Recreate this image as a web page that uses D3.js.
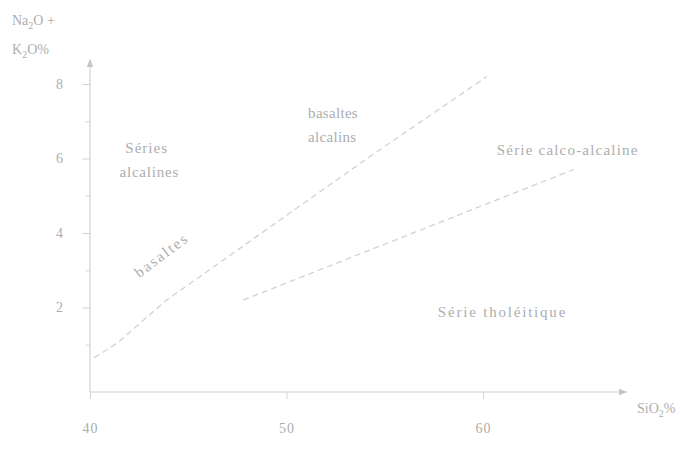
<!DOCTYPE html>
<html>
<head>
<meta charset="utf-8">
<script src="https://cdn.jsdelivr.net/npm/d3@7"></script>
<style>
  html, body { margin: 0; padding: 0; background: #fff; }
  svg { display: block; }
  text { font-family: "Liberation Serif", "DejaVu Serif", serif; }
</style>
</head>
<body>
<svg id="chart" width="683" height="450"></svg>
<script>
// ---- data ----
const xTicks = [40, 50, 60];
const yTicks = [2, 4, 6, 8];
const yMinorTicks = [1, 3, 5, 7];
// alkaline / subalkaline boundary (SiO2 %, Na2O+K2O %)
const alkalineLineX = [40.2, 41.4, 43.9, 54.1, 60.2];
const alkalineLineY = [0.65, 1.05, 2.2, 6.0, 8.2];
// calc-alkaline / tholeiitic boundary
const tholeiiticLineX = [47.8, 64.6];
const tholeiiticLineY = [2.2, 5.7];
// region labels [text, SiO2, alkali]
const regionLabels = [
  ["Séries", 41.8, 6.15],
  ["alcalines", 41.5, 5.5],
  ["basaltes", 51.1, 7.08],
  ["alcalins", 51.1, 6.45],
  ["Série calco-alcaline", 60.7, 6.1],
  ["Série tholéitique", 57.7, 1.75]
];
const regionSpacing = [1, 0.8, 0.3, 0.3, 1.2, 1.8];
const rotatedLabel = ["basaltes", 43.8, 3.3];

// ---- scales ----
const svg = d3.select("#chart");
const x = d3.scaleLinear().domain([40, 60]).range([90, 483]);
const y = d3.scaleLinear().domain([0, 8]).range([382, 84]);
const axisY0 = 392;           // pixel row of the horizontal axis
const xMax = 67.3, yMax = 8.65;

const lineCol = "#d2d2d2";
const textCol = "#adadad";

// ---- axes ----
const gx = svg.append("g").attr("transform", `translate(0,${axisY0})`)
  .call(d3.axisBottom(x).tickValues(xTicks).tickSize(7).tickPadding(24).tickFormat(d3.format("d")));
const gy = svg.append("g").attr("transform", `translate(${x(40)},0)`)
  .call(d3.axisLeft(y).tickValues(yTicks).tickSize(8).tickPadding(18).tickFormat(d3.format("d")));
const gm = svg.append("g").attr("transform", `translate(${x(40)},0)`)
  .call(d3.axisLeft(y).tickValues(yMinorTicks).tickSize(4).tickFormat(""));

[gx, gy, gm].forEach(g => {
  g.attr("color", textCol).attr("font-family", "Liberation Serif, serif").attr("font-size", 14);
  g.select(".domain").remove();
  g.selectAll(".tick line").attr("stroke", lineCol);
  g.selectAll(".tick text").attr("fill", textCol).attr("letter-spacing", 1);
});

// axis lines with arrows
svg.append("defs").append("marker")
  .attr("id", "arr").attr("viewBox", "0 0 10 10").attr("refX", 9).attr("refY", 5)
  .attr("markerWidth", 7).attr("markerHeight", 7).attr("orient", "auto")
  .append("path").attr("d", "M0,1L10,5L0,9Z").attr("fill", "#c4c4c4");

svg.append("line")
  .attr("x1", x(40)).attr("x2", x(xMax)).attr("y1", axisY0).attr("y2", axisY0)
  .attr("stroke", lineCol).attr("stroke-width", 1.2).attr("marker-end", "url(#arr)");
svg.append("line")
  .attr("x1", x(40)).attr("x2", x(40)).attr("y1", axisY0).attr("y2", y(yMax))
  .attr("stroke", lineCol).attr("stroke-width", 1.2).attr("marker-end", "url(#arr)");

// ---- boundary lines ----
const line = d3.line().x(d => x(d[0])).y(d => y(d[1]));
svg.append("path")
  .datum(d3.zip(alkalineLineX, alkalineLineY))
  .attr("d", line).attr("fill", "none").attr("stroke", lineCol)
  .attr("stroke-width", 1.3).attr("stroke-dasharray", "6,4");
svg.append("path")
  .datum(d3.zip(tholeiiticLineX, tholeiiticLineY))
  .attr("d", line).attr("fill", "none").attr("stroke", lineCol)
  .attr("stroke-width", 1.3).attr("stroke-dasharray", "6,4");

// ---- labels ----
svg.selectAll("text.region").data(regionLabels).join("text")
  .attr("class", "region")
  .attr("x", d => x(d[1])).attr("y", d => y(d[2]))
  .attr("fill", textCol).attr("font-size", 15)
  .attr("letter-spacing", (d, i) => regionSpacing[i])
  .text(d => d[0]);

svg.append("text")
  .attr("transform", `translate(${x(rotatedLabel[1])},${y(rotatedLabel[2])}) rotate(-37)`)
  .attr("text-anchor", "middle").attr("fill", textCol).attr("font-size", 15)
  .attr("letter-spacing", 2)
  .text(rotatedLabel[0]);

// axis titles
const yTitle = svg.append("text").attr("fill", textCol).attr("font-size", 14);
yTitle.append("tspan").attr("x", 12).attr("y", 25).text("Na");
yTitle.append("tspan").attr("font-size", 10).attr("dy", 4).text("2");
yTitle.append("tspan").attr("dy", -4).text("O +");
const yTitle2 = svg.append("text").attr("fill", textCol).attr("font-size", 14);
yTitle2.append("tspan").attr("x", 12).attr("y", 54).text("K");
yTitle2.append("tspan").attr("font-size", 10).attr("dy", 4).text("2");
yTitle2.append("tspan").attr("dy", -4).text("O%");

const xTitle = svg.append("text").attr("fill", textCol).attr("font-size", 14);
xTitle.append("tspan").attr("x", 637).attr("y", 413).text("SiO");
xTitle.append("tspan").attr("font-size", 10).attr("dy", 4).text("2");
xTitle.append("tspan").attr("dy", -4).text("%");
</script>
</body>
</html>
